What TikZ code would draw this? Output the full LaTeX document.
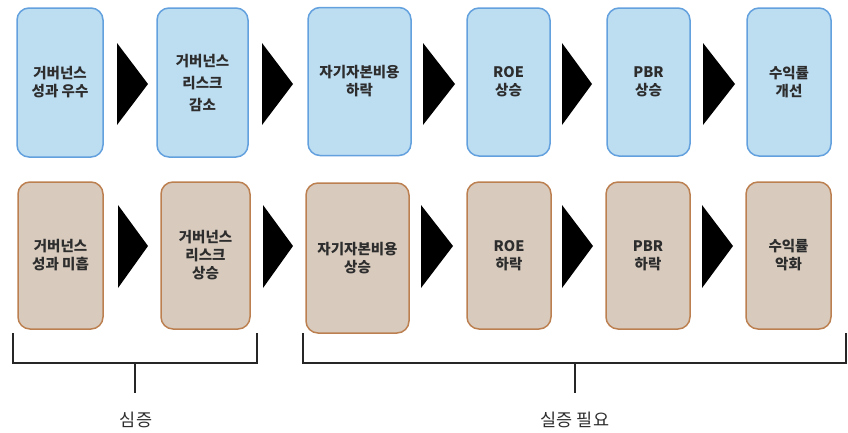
\documentclass[tikz,border=0pt]{standalone}
\usepackage{fontspec}
\setmainfont{Noto Sans CJK KR}
\definecolor{bfill}{RGB}{189,221,241}
\definecolor{bline}{RGB}{98,160,222}
\definecolor{rfill}{RGB}{216,203,190}
\definecolor{rline}{RGB}{188,128,80}
\definecolor{txt}{RGB}{45,45,45}
\tikzset{
  box/.style={rounded corners=12pt, line width=1.5pt, inner sep=0pt, align=center,
    font=\fontsize{14.5}{18}\selectfont\bfseries, text=txt},
  bluebox/.style={box, draw=bline, fill=bfill},
  brownbox/.style={box, draw=rline, fill=rfill},
  wide/.style={font=\fontsize{14.5}{22}\selectfont\bfseries},
  tri/.style={fill=black},
  brk/.style={line width=2.4pt, draw=black!85},
  lbl/.style={font=\fontsize{17.5}{19}\selectfont, text=txt}
}
\begin{document}
\begin{tikzpicture}[x=1pt,y=-1pt]
\useasboundingbox (0,0) rectangle (848,432);
% top row
\node[bluebox, minimum width=86pt, minimum height=149pt] (t1) at (60,82.5) {거버넌스\\성과 우수};
\node[bluebox, wide, minimum width=91pt, minimum height=149pt] (t2) at (202.5,82.5) {거버넌스\\리스크\\감소};
\node[bluebox, minimum width=103pt, minimum height=148pt] (t3) at (359.5,81.5) {자기자본비용\\하락};
\node[bluebox, minimum width=83pt, minimum height=148pt] (t4) at (508.5,82) {ROE\\상승};
\node[bluebox, minimum width=83pt, minimum height=148pt] (t5) at (648.5,82) {PBR\\상승};
\node[bluebox, minimum width=84pt, minimum height=148pt] (t6) at (789,82) {수익률\\개선};
% bottom row
\node[brownbox, minimum width=85pt, minimum height=147pt] (b1) at (60.5,255.5) {거버넌스\\성과 미흡};
\node[brownbox, minimum width=89pt, minimum height=147pt] (b2) at (205.5,255.5) {거버넌스\\리스크\\상승};
\node[brownbox, minimum width=103pt, minimum height=150pt] (b3) at (357.5,258) {자기자본비용\\상승};
\node[brownbox, minimum width=84pt, minimum height=147pt] (b4) at (509,255.5) {ROE\\하락};
\node[brownbox, minimum width=84pt, minimum height=147pt] (b5) at (648,255.5) {PBR\\하락};
\node[brownbox, minimum width=85pt, minimum height=147pt] (b6) at (788.5,255.5) {수익률\\악화};
% top arrows
\fill[tri] (117,43) -- (148,84) -- (117,125) -- cycle;
\fill[tri] (262,43) -- (293,84) -- (262,125) -- cycle;
\fill[tri] (423,43) -- (455,84) -- (423,125) -- cycle;
\fill[tri] (562,43) -- (592,84) -- (562,125) -- cycle;
\fill[tri] (703,43) -- (735,84) -- (703,125) -- cycle;
% bottom arrows
\fill[tri] (118,205) -- (148,246) -- (118,288) -- cycle;
\fill[tri] (263,205) -- (293,246) -- (263,288) -- cycle;
\fill[tri] (421,205) -- (453,246) -- (421,288) -- cycle;
\fill[tri] (562,205) -- (593,246) -- (562,288) -- cycle;
\fill[tri] (702,205) -- (733,246) -- (702,288) -- cycle;
% brackets
\coordinate (l1) at (13,333);
\coordinate (l2) at (257,333);
\coordinate (lm) at (135,363);
\coordinate (ls) at (135,393);
\draw[brk] (l1) -- (13,363) -- (257,363) -- (l2);
\draw[brk] (lm) -- (ls);
\coordinate (r1) at (303,333);
\coordinate (r2) at (846,333);
\coordinate (rm) at (575,363);
\coordinate (rs) at (575,393);
\draw[brk] (r1) -- (303,363) -- (846,363) -- (r2);
\draw[brk] (rm) -- (rs);
\node[lbl] (lab1) at (136,420) {심증};
\node[lbl] (lab2) at (575,420) {실증 필요};
\end{tikzpicture}
\end{document}
